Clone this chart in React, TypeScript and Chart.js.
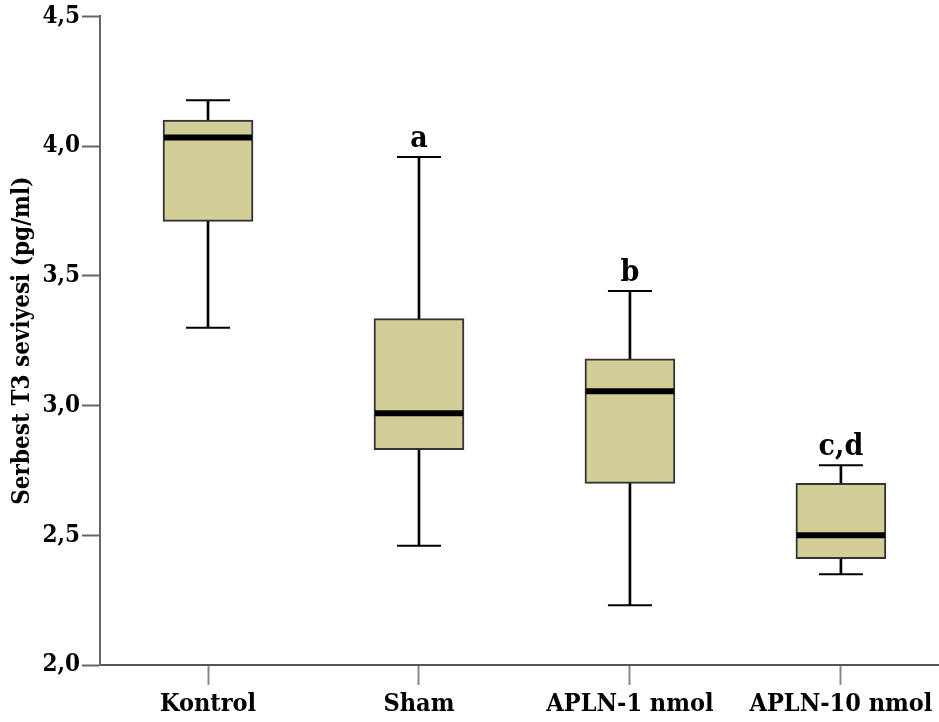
import React, { useEffect, useRef } from "react";
import { Chart, registerables } from "chart.js";

Chart.register(...registerables);

const categories = ["Kontrol", "Sham", "APLN-1 nmol", "APLN-10 nmol"];
const mins = [3.3, 2.46, 2.23, 2.35];
const q1s = [3.71, 2.83, 2.7, 2.41];
const medians = [4.033, 2.97, 3.055, 2.5];
const q3s = [4.1, 3.335, 3.18, 2.7];
const maxs = [4.177, 3.958, 3.442, 2.77];
const letters = ["", "a", "b", "c,d"];
const yTicks = [2.0, 2.5, 3.0, 3.5, 4.0, 4.5];

const SERIF = "'DejaVu Serif Condensed', 'DejaVu Serif', 'Liberation Serif', serif";

export default function App() {
  const ref = useRef<HTMLCanvasElement | null>(null);

  useEffect(() => {
    if (!ref.current) return;
    const xs = categories.map((_, i) => i + 1);

    const letterPlugin = {
      id: "letters",
      afterDatasetsDraw(chart: any) {
        const { ctx, scales } = chart;
        ctx.save();
        ctx.font = `bold 30px ${SERIF}`;
        ctx.fillStyle = "#000";
        ctx.textAlign = "center";
        ctx.textBaseline = "alphabetic";
        letters.forEach((t, i) => {
          if (!t) return;
          const x = scales.x.getPixelForValue(xs[i]);
          const y = scales.y.getPixelForValue(maxs[i]) - 10;
          ctx.fillText(t, x, y);
        });
        ctx.restore();
      },
    };

    const chart = new Chart(ref.current, {
      type: "bar",
      data: {
        datasets: [
          {
            type: "bar",
            data: xs.map((x, i) => ({ x, y: [mins[i], maxs[i]] })) as any,
            backgroundColor: "#000",
            borderWidth: 0,
            barThickness: 2,
            grouped: false,
            order: 4,
          } as any,
          {
            type: "bar",
            data: xs.map((x, i) => ({ x, y: [q1s[i], q3s[i]] })) as any,
            backgroundColor: "#D3CE98",
            borderColor: "#333333",
            borderWidth: 2,
            borderSkipped: false,
            barThickness: 90,
            grouped: false,
            order: 3,
          } as any,
          {
            type: "scatter",
            data: xs.flatMap((x, i) => [
              { x, y: mins[i] },
              { x, y: maxs[i] },
            ]),
            pointStyle: "line",
            radius: 22,
            borderColor: "#000",
            borderWidth: 2,
            order: 2,
          } as any,
          {
            type: "scatter",
            data: xs.map((x, i) => ({ x, y: medians[i] })),
            pointStyle: "line",
            radius: 44,
            borderColor: "#000",
            borderWidth: 6,
            order: 1,
          } as any,
        ],
      },
      options: {
        animation: false,
        responsive: true,
        maintainAspectRatio: false,
        layout: { autoPadding: false, padding: { top: 15, right: 0, left: 0, bottom: 0 } },
        plugins: {
          legend: { display: false },
          tooltip: { enabled: false },
        },
        scales: {
          x: {
            type: "linear",
            offset: false,
            min: 0.488,
            max: 4.465,
            afterBuildTicks(scale: any) {
              scale.ticks = xs.map((v) => ({ value: v }));
            },
            afterFit(scale: any) {
              scale.height = 57;
            },
            ticks: {
              callback: (v: any) => categories[Number(v) - 1] ?? "",
              color: "#000",
              font: { family: SERIF, size: 25, weight: "bold" },
              padding: 4,
              maxRotation: 0,
              autoSkip: false,
            },
            grid: {
              offset: false,
              drawOnChartArea: false,
              drawTicks: true,
              tickLength: 20,
              tickColor: "#888888",
              tickWidth: 2,
            },
            border: { color: "#555555", width: 2 },
          },
          y: {
            type: "linear",
            min: 2,
            max: 4.5,
            afterBuildTicks(scale: any) {
              scale.ticks = yTicks.map((v) => ({ value: v }));
            },
            afterFit(scale: any) {
              scale.width = 100;
            },
            ticks: {
              callback: (v: any) => Number(v).toFixed(1).replace(".", ","),
              color: "#000",
              font: { family: SERIF, size: 24, weight: "bold" },
              padding: 2,
            },
            grid: {
              drawOnChartArea: false,
              drawTicks: true,
              tickLength: 18,
              tickColor: "#666666",
              tickWidth: 2,
            },
            border: { color: "#666666", width: 2 },
            title: {
              display: true,
              text: "Serbest T3 seviyesi (pg/ml)",
              color: "#000",
              font: { family: SERIF, size: 24, weight: "bold" },
              padding: { top: 8, bottom: 0 },
            },
          },
        },
      },
      plugins: [letterPlugin],
    } as any);

    return () => chart.destroy();
  }, []);

  return (
    <div style={{ position: "fixed", left: 0, top: 0, width: 939, height: 722, background: "#fff" }}>
      <canvas ref={ref} />
    </div>
  );
}
